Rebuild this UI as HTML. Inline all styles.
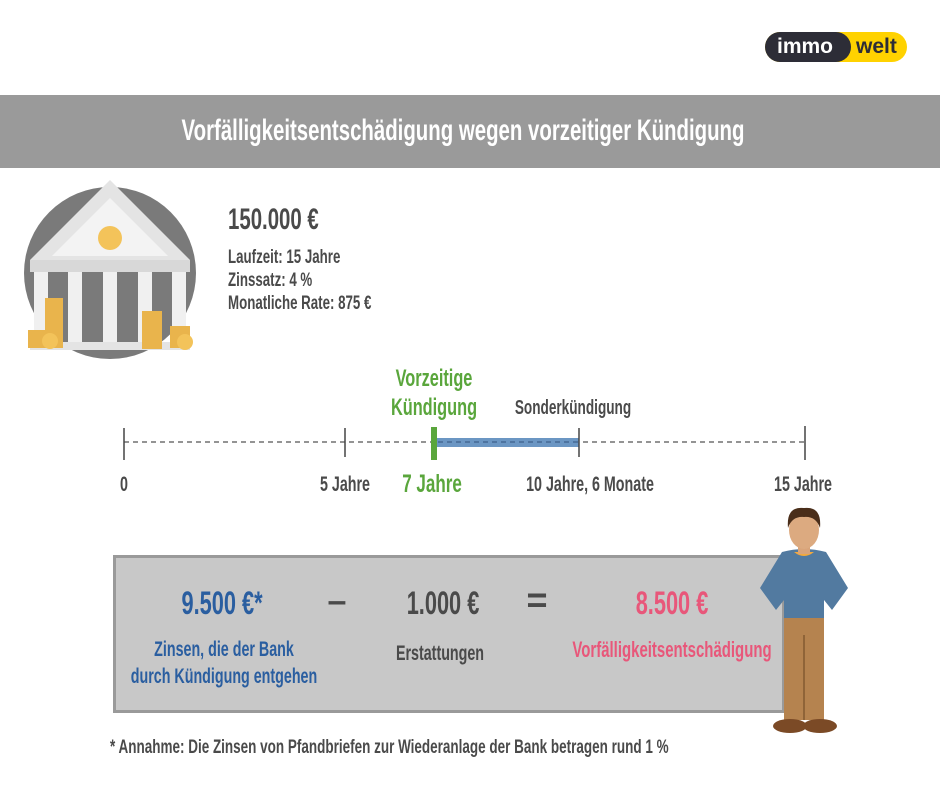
<!DOCTYPE html>
<html><head><meta charset="utf-8"><style>
body{margin:0;width:940px;height:799px;background:#fff;position:relative;overflow:hidden;font-family:"Liberation Sans",sans-serif;font-weight:bold;color:#4a4a4a}
.t{position:absolute;white-space:nowrap;line-height:1;transform-origin:0 50%;transform:scaleX(.75)}
.c{transform-origin:50% 50%;transform:translateX(-50%) scaleX(.75)}
.n{transform:scaleX(.68)}
.c.n{transform:translateX(-50%) scaleX(.68)}
</style></head><body>
<!-- logo -->
<div style="position:absolute;left:765px;top:32px;width:142px;height:30px;border-radius:15px;background:#ffd200"></div>
<div style="position:absolute;left:765px;top:32px;width:86px;height:30px;border-radius:15px;background:#2d2d37"></div>
<div class="t" style="left:777px;top:36px;font-size:21px;color:#fff;transform:none">immo</div>
<div class="t" style="left:856px;top:36px;font-size:21px;color:#2d2d37;transform:none">welt</div>
<!-- header -->
<div style="position:absolute;left:0;top:95px;width:940px;height:73px;background:#9a9a9a"></div>
<div class="t c" style="left:463px;top:116px;font-size:30px;color:#fff;transform:translateX(-50%) scaleX(.68)">Vorfälligkeitsentschädigung wegen vorzeitiger Kündigung</div>
<!-- bank -->
<svg style="position:absolute;left:0;top:170px" width="220" height="200">
<circle cx="110" cy="103" r="86" fill="#7a7a7a"/>
<polygon points="110,10 30,90 190,90" fill="#e4e4e4"/>
<polygon points="110,28 52,86 168,86" fill="#f3f3f3"/>
<circle cx="110" cy="68" r="12" fill="#f3c35a"/>
<rect x="30" y="90" width="160" height="12" fill="#d8d8d8"/>
<g fill="#f0f0f0"><rect x="34" y="102" width="14" height="70"/><rect x="68" y="102" width="14" height="70"/><rect x="103" y="102" width="14" height="70"/><rect x="138" y="102" width="14" height="70"/><rect x="172" y="102" width="14" height="70"/></g>
<rect x="30" y="172" width="160" height="8" fill="#e4e4e4"/>
<g fill="#e9b44c"><rect x="45" y="128" width="18" height="50"/><rect x="28" y="160" width="20" height="18"/><rect x="142" y="141" width="20" height="38"/><rect x="170" y="156" width="20" height="22"/></g>
<circle cx="50" cy="171" r="8" fill="#f3c35a"/><circle cx="185" cy="172" r="8" fill="#f3c35a"/>
</svg>
<div class="t n" style="left:228px;top:205px;font-size:30px">150.000 €</div>
<div class="t" style="left:228px;top:248px;font-size:19px;transform:scaleX(.7)">Laufzeit: 15 Jahre</div>
<div class="t" style="left:228px;top:271px;font-size:19px;transform:scaleX(.7)">Zinssatz: 4 %</div>
<div class="t" style="left:228px;top:294px;font-size:19px;transform:scaleX(.7)">Monatliche Rate: 875 €</div>
<!-- timeline -->
<svg style="position:absolute;left:0;top:420px" width="940" height="50">
<line x1="124" y1="22" x2="805" y2="22" stroke="#555" stroke-width="1.3" stroke-dasharray="5,4"/>
<rect x="436" y="18" width="143" height="9" fill="#6b96c3"/>
<line x1="438" y1="22" x2="579" y2="22" stroke="#3d5f8a" stroke-width="1.3" stroke-dasharray="5,4"/>
<g stroke="#444" stroke-width="1.5"><line x1="124" y1="8" x2="124" y2="40"/><line x1="345" y1="8" x2="345" y2="37"/><line x1="579" y1="8" x2="579" y2="37"/><line x1="805" y1="6" x2="805" y2="40"/></g>
<rect x="431" y="7" width="6" height="33" fill="#5aa63c"/>
</svg>
<div class="t c n" style="left:434px;top:367px;font-size:24px;color:#5aa63c">Vorzeitige</div>
<div class="t c n" style="left:434px;top:396px;font-size:24px;color:#5aa63c">Kündigung</div>
<div class="t c n" style="left:573px;top:398px;font-size:20px">Sonderkündigung</div>
<div class="t c n" style="left:124px;top:474px;font-size:21px">0</div>
<div class="t c n" style="left:345px;top:474px;font-size:21px">5 Jahre</div>
<div class="t c n" style="left:432px;top:472px;font-size:25px;color:#5aa63c">7 Jahre</div>
<div class="t c n" style="left:590px;top:474px;font-size:21px">10 Jahre, 6 Monate</div>
<div class="t c n" style="left:803px;top:474px;font-size:21px">15 Jahre</div>
<!-- box -->
<div style="position:absolute;left:113px;top:555px;width:666px;height:152px;background:#c8c8c8;border:3px solid #9a9a9a"></div>
<div class="t c n" style="left:222px;top:587px;font-size:32px;color:#2a5ea0">9.500 €*</div>
<div class="t c" style="left:337px;top:584px;font-size:34px;transform:translateX(-50%)">–</div>
<div class="t c n" style="left:443px;top:587px;font-size:32px">1.000 €</div>
<div class="t c" style="left:537px;top:582px;font-size:36px;transform:translateX(-50%)">=</div>
<div class="t c n" style="left:672px;top:587px;font-size:32px;color:#e8577a">8.500 €</div>
<div class="t c n" style="left:224px;top:639px;font-size:21px;color:#2a5ea0">Zinsen, die der Bank</div>
<div class="t c n" style="left:224px;top:666px;font-size:21px;color:#2a5ea0">durch Kündigung entgehen</div>
<div class="t c n" style="left:440px;top:643px;font-size:21px">Erstattungen</div>
<div class="t c n" style="left:672px;top:639px;font-size:22px;color:#e8577a">Vorfälligkeitsentschädigung</div>
<div class="t" style="left:110px;top:738px;font-size:19px;transform:scaleX(.71)">* Annahme: Die Zinsen von Pfandbriefen zur Wiederanlage der Bank betragen rund 1 %</div>
<!-- person -->
<svg style="position:absolute;left:740px;top:500px" width="200" height="240">
<rect x="44" y="105" width="40" height="115" fill="#b5834f"/>
<rect x="63" y="135" width="2" height="85" fill="#8f6438"/>
<ellipse cx="50" cy="226" rx="17" ry="7" fill="#7b4a26"/><ellipse cx="80" cy="226" rx="17" ry="7" fill="#7b4a26"/>
<path d="M42 52 Q64 46 86 52 L108 88 L92 110 L84 100 L84 118 L44 118 L44 100 L36 110 L20 88 Z" fill="#527aa0"/>
<path d="M54 52 Q64 60 74 52" fill="#f3a93c"/>
<rect x="58" y="40" width="12" height="14" fill="#d9a47a"/>
<ellipse cx="64" cy="30" rx="15" ry="19" fill="#dcaa80"/>
<path d="M48 28 Q46 6 64 8 Q82 6 80 28 Q76 16 64 17 Q52 16 48 28Z" fill="#4a2e1a"/>
</svg>
</body></html>
